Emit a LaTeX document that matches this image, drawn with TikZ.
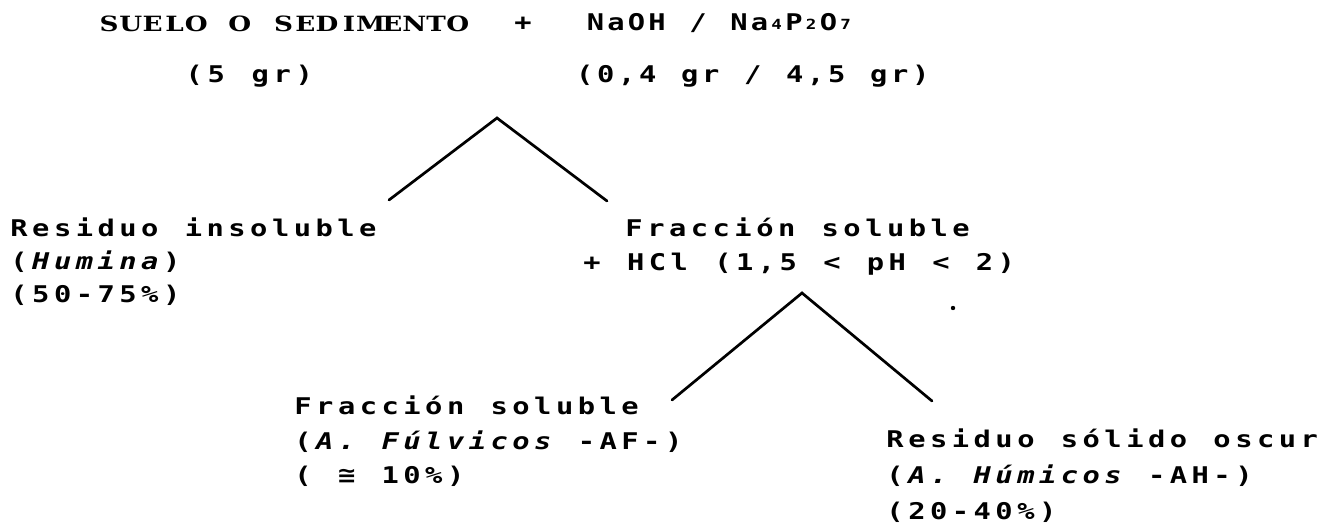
\documentclass[tikz,border=0pt]{standalone}
\usepackage{graphicx}
\usepackage{fontspec}
\setmainfont{DejaVu Sans Mono}
\newfontfamily\topfont{DejaVu Serif Bold}
\newcommand\myxs{1.25}
\ExplSyntaxOn
\NewDocumentCommand\cells{O{21.8pt}m}{
  \str_map_inline:nn {#2} { \makebox[#1][c]{\scalebox{\myxs}[1]{##1}} }
}
\ExplSyntaxOff
\newcommand\pc{\makebox[21.8pt][c]{\scalebox{\myxs}[1]{\%}}}
\newcommand\sub[1]{\makebox[14pt][c]{\raisebox{1pt}{\fontsize{14}{14}\selectfont\scalebox{\myxs}[1]{#1}}}}
\tikzset{
  txt/.style={anchor=base west, inner sep=0pt, font=\fontsize{23}{23}\selectfont\bfseries},
  ttl/.style={anchor=base west, inner sep=0pt, font=\topfont\fontsize{21}{21}\selectfont},
  branch/.style={line width=2.7pt, line cap=round}
}
\begin{document}
\begin{tikzpicture}[x=1pt,y=-1pt]
\useasboundingbox (0,0) rectangle (1322,526);
\node[ttl] (suelo) at (98,32) {\cells[21.8pt]{SUELO O SEDIMENTO}};
\node[txt] (plus) at (512,31) {\cells{+}};
\node[txt] (naoh) at (585,31) {\cells[20.5pt]{NaOH / Na}\sub{4}\cells[20.5pt]{P}\sub{2}\cells[20.5pt]{O}\sub{7}};
\node[txt] (cinco) at (183,83) {\cells[22pt]{(5 gr)}};
\node[txt] (cant) at (574,83) {\cells[21pt]{(0,4 gr / 4,5 gr)}};
\node[txt] (res1) at (8,237) {\cells{Residuo insoluble}};
\node[txt] (hum) at (8,270) {\cells{(}{\itshape\cells{Humina}}\cells{)}};
\node[txt] (p1) at (8,303) {\cells{(50-75}\pc\cells{)}};
\node[txt] (frac1) at (623,237) {\cells{Fracción soluble}};
\node[txt] (hcl) at (581,271) {\cells{+ HCl (1,5 < pH < 2)}};
\node[txt] (frac2) at (292,414) {\cells{Fracción soluble}};
\node[txt] (af) at (292,449) {\cells{(}{\itshape\cells{A. Fúlvicos}}\cells{ -AF-)}};
\node[txt] (ten) at (292,483) {\cells{( ≅ 10}\pc\cells{)}};
\node[txt] (res2) at (884,447) {\cells{Residuo sólido oscur}};
\node[txt] (ah) at (884,483) {\cells{(}{\itshape\cells{A. Húmicos}}\cells{ -AH-)}};
\node[txt] (p2) at (884,519) {\cells{(20-40}\pc\cells{)}};
\coordinate (t1) at (497,118);
\coordinate (t1l) at (389,200);
\coordinate (t1r) at (607,201);
\coordinate (t2) at (802,293);
\coordinate (t2l) at (672,400);
\coordinate (t2r) at (932,401);
\draw[branch] (t1l) -- (t1) -- (t1r);
\draw[branch] (t2l) -- (t2) -- (t2r);
\fill (953,308) circle (2.2pt);
\end{tikzpicture}
\end{document}
